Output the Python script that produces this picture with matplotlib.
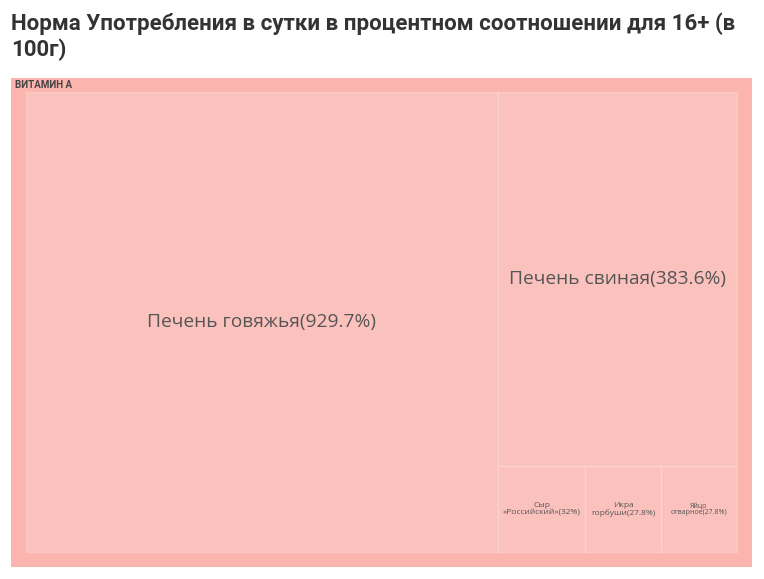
import matplotlib.pyplot as plt
from matplotlib.patches import Rectangle

title = 'Норма Употребления в сутки в процентном соотношении для 16+ (в\n100г)'
group = 'ВИТАМИН А'
labels = ['Печень говяжья', 'Печень свиная', 'Сыр\n«Российский»', 'Икра\nгорбуши', 'Яйцо\nотварное']
values = [929.7, 383.6, 32, 27.8, 27.8]
pct_text = ['929.7%', '383.6%', '32%', '27.8%', '27.8%']


def layout(sizes, x, y, w, h):
    covered = sum(sizes)
    rects = []
    if w >= h:
        width = covered / h
        yy = y
        for s in sizes:
            rects.append((x, yy, width, s / width))
            yy += s / width
    else:
        height = covered / w
        xx = x
        for s in sizes:
            rects.append((xx, y, s / height, height))
            xx += s / height
    return rects


def leftover(sizes, x, y, w, h):
    covered = sum(sizes)
    if w >= h:
        width = covered / h
        return x + width, y, w - width, h
    height = covered / w
    return x, y + height, w, h - height


def worst(sizes, x, y, w, h):
    return max(max(rw / rh, rh / rw) for _, _, rw, rh in layout(sizes, x, y, w, h))


def squarify(sizes, x, y, w, h):
    if not sizes:
        return []
    if len(sizes) == 1:
        return layout(sizes, x, y, w, h)
    i = 1
    while i < len(sizes) and worst(sizes[:i], x, y, w, h) >= worst(sizes[:i + 1], x, y, w, h):
        i += 1
    cur, rest = sizes[:i], sizes[i:]
    lx, ly, lw, lh = leftover(cur, x, y, w, h)
    return layout(cur, x, y, w, h) + squarify(rest, lx, ly, lw, lh)


fig = plt.figure(figsize=(7.64, 5.79), dpi=100)
fig.text(11 / 764, 1 - 12 / 579, title, fontsize=16, fontweight='bold',
         color='#333333', family='Roboto', va='top', ha='left', linespacing=1.2)

# box in pixel units, y going down
W, H = 741, 489
ax = fig.add_axes([11 / 764, 1 - 567 / 579, W / 764, H / 579])
ax.set_xlim(0, W)
ax.set_ylim(H, 0)
ax.axis('off')

ax.add_patch(Rectangle((0, 0), W, H, facecolor='#fbb4ae', edgecolor='none'))
ax.text(4, 7.5, group, fontsize=7, fontweight='bold', color='#444444',
        va='center', ha='left', family='Roboto')

pad_l, pad_t, pad_r, pad_b = 15, 14, 15, 15
iw, ih = W - pad_l - pad_r, H - pad_t - pad_b
total = sum(values)
sizes = [v * iw * ih / total for v in values]
rects = squarify(sizes, pad_l, pad_t, iw, ih)

fsizes = [13.8, 13.8, 6, 6, 5]
for (rx, ry, rw, rh), lab, p, fs in zip(rects, labels, pct_text, fsizes):
    ax.add_patch(Rectangle((rx, ry), rw, rh, facecolor='#fbc2bd',
                           edgecolor=(1, 1, 1, 0.22), linewidth=1))
    ax.text(rx + rw / 2, ry + rh / 2, f'{lab}({p})', fontsize=fs, color='#555555',
            ha='center', va='center', family='Open Sans', linespacing=1.0)

fig.savefig('out.png', dpi=100)
